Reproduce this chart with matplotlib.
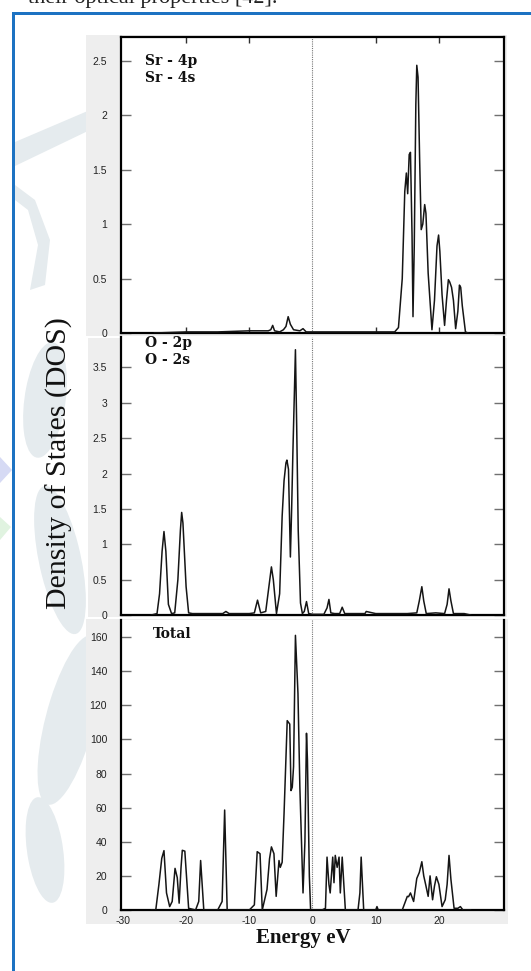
import matplotlib
matplotlib.use('Agg')
import matplotlib.pyplot as plt
from matplotlib.patches import Rectangle, Polygon, Ellipse
from matplotlib.ticker import FuncFormatter

# ---------------- data ----------------
sr_energy = [-25, -20, -15, -10, -7.0, -6.6, -6.3, -6.0, -5.2, -4.6, -4.2, -3.85, -3.5, -3.0, -2.0,
             -1.5, -1.0, 0, 5, 10, 13.0, 13.6, 14.2, 14.6, 14.85, 15.06, 15.3, 15.5, 15.75, 15.9,
             16.1, 16.35, 16.5, 16.7, 16.95, 17.2, 17.45, 17.75, 17.95, 18.3, 18.9, 19.3, 19.7,
             19.95, 20.15, 20.5, 20.9, 21.2, 21.5, 21.7, 22.0, 22.3, 22.65, 23.0, 23.25, 23.45,
             23.7, 24.2, 24.6]
sr_dos = [0.0, 0.01, 0.01, 0.02, 0.02, 0.03, 0.07, 0.02, 0.01, 0.03, 0.06, 0.15, 0.08, 0.03, 0.02,
          0.04, 0.01, 0.01, 0.01, 0.01, 0.01, 0.05, 0.5, 1.3, 1.47, 1.28, 1.64, 1.66, 0.9, 0.15,
          0.8, 2.1, 2.46, 2.35, 1.6, 0.95, 1.0, 1.18, 1.1, 0.55, 0.03, 0.3, 0.8,
          0.9, 0.75, 0.35, 0.07, 0.3, 0.49, 0.47, 0.42, 0.3, 0.04, 0.2, 0.44, 0.42,
          0.25, 0.01, 0.0]

o_energy = [-25.5, -24.6, -24.2, -23.8, -23.5, -23.2, -22.8, -22.3, -21.8, -21.3, -20.9, -20.7,
            -20.5, -20.0, -19.6, -19.0, -16, -14.2, -13.7, -13.2, -10, -9.2, -8.7, -8.2, -7.4,
            -6.9, -6.5, -6.2, -5.7, -5.2, -4.8, -4.5, -4.2, -4.05, -3.8, -3.5, -3.3, -3.1, -2.85,
            -2.7, -2.5, -2.26, -1.9, -1.6, -1.3, -0.95, -0.6, 0, 1.8, 2.3, 2.6, 2.9, 3.5, 4.3,
            4.7, 5.1, 7, 8.3, 8.5, 10, 15, 16.5, 16.9, 17.3, 17.6, 18.0, 19.5, 20.9, 21.3, 21.6,
            21.9, 22.3, 24, 25]
o_dos = [0.0, 0.02, 0.3, 0.9, 1.18, 0.9, 0.15, 0.02, 0.03, 0.5, 1.2, 1.45,
         1.3, 0.4, 0.03, 0.02, 0.02, 0.02, 0.05, 0.02, 0.02, 0.03, 0.21, 0.03, 0.05,
         0.4, 0.68, 0.5, 0.02, 0.3, 1.4, 1.9, 2.15, 2.19, 2.06, 0.82, 1.5, 2.31, 3.2,
         3.75, 2.66, 1.2, 0.17, 0.02, 0.05, 0.19, 0.02, 0.01, 0.01, 0.1, 0.22, 0.03, 0.02, 0.02,
         0.11, 0.02, 0.02, 0.02, 0.05, 0.02, 0.02, 0.03, 0.2, 0.40, 0.2, 0.02, 0.03, 0.02, 0.15, 0.37,
         0.2, 0.02, 0.02, 0.0]

tot_energy = [-25.5, -24.8, -24.3, -23.85, -23.5, -23.1, -22.6, -22.2, -21.75, -21.4, -21.1, -20.8,
              -20.6, -20.2, -19.6, -18.5, -18.0, -17.7, -17.2, -15, -14.3, -13.9, -13.5, -10,
              -9.2, -8.75, -8.3, -7.95, -7.2, -6.8, -6.5, -6.1, -5.75, -5.3, -5.1, -4.8, -4.5,
              -4.0, -3.6, -3.4, -3.2, -3.0, -2.7, -2.3, -2.0, -1.5, -1.2, -0.95, -0.8, -0.5, -0.3,
              0, 1.5, 2.05, 2.3, 2.6, 2.8, 3.2, 3.4, 3.6, 3.9, 4.2, 4.4, 4.7, 5.2, 7.2, 7.5, 7.7,
              8.1, 10.0, 10.2, 10.4, 14.2, 15.0, 15.2, 15.5, 16.0, 16.5, 16.9, 17.3, 17.6, 17.9,
              18.3, 18.6, 19.0, 19.3, 19.6, 20.0, 20.5, 21.0, 21.3, 21.6, 21.9, 22.4, 23.0, 23.4,
              23.8, 25.0]
tot_dos = [0, 0, 15, 30.3, 34.8, 10, 2, 5, 24.4, 19, 4, 25,
           35, 34.5, 1, 0, 5, 29, 0, 0, 5, 58.6, 0, 0,
           3, 34.2, 33, 0, 12, 30, 37, 33, 8, 29, 25, 28, 56.7,
           111, 109, 70, 72, 84, 161, 127, 72, 10, 40, 103.6, 88, 20, 0,
           0, 0, 1, 31, 15, 10, 31, 16, 32, 25, 31, 10, 31, 0, 0, 10, 31,
           0, 0, 2, 0, 0, 8, 7.8, 10, 5, 18.5, 22, 28.3, 20, 15,
           8, 20, 6, 14, 19.5, 15, 2, 6, 15, 32, 18, 1, 1, 2,
           0, 0]

panel_labels = [["Sr - 4p", "Sr - 4s"], ["O - 2p", "O - 2s"], ["Total"]]
y_ticks = [[0, 0.5, 1, 1.5, 2, 2.5],
           [0, 0.5, 1, 1.5, 2, 2.5, 3, 3.5],
           [0, 20, 40, 60, 80, 100, 120, 140, 160]]
y_limits = [2.72, 3.93, 170]
x_ticks = [-30, -20, -10, 0, 10, 20]

# ---------------- figure ----------------
W, H = 531, 971
fig = plt.figure(figsize=(W / 100, H / 100), dpi=100)
fig.patch.set_facecolor('white')


def fx(x):
    return x / W


def fy(y):
    return 1 - y / H


def rect_px(x0, y0, x1, y1, **kw):
    r = Rectangle((fx(x0), fy(y1)), fx(x1) - fx(x0), fy(y0) - fy(y1),
                  transform=fig.transFigure, **kw)
    fig.patches.append(r)


def poly_px(pts, **kw):
    p = Polygon([(fx(a), fy(b)) for a, b in pts], closed=True,
                transform=fig.transFigure, **kw)
    fig.patches.append(p)


def ell_px(cx, cy, w, h, ang, **kw):
    e = Ellipse((fx(cx), fy(cy)), w / W, h / H, angle=ang, transform=fig.transFigure, **kw)
    fig.patches.append(e)


# faint watermark shapes
wm = '#e5ebee'
poly_px([(15, 142), (90, 110), (90, 130), (15, 166)], facecolor=wm, edgecolor='none', zorder=-6)
poly_px([(15, 185), (35, 200), (50, 240), (45, 285), (30, 290), (38, 245), (28, 210), (15, 200)],
        facecolor=wm, edgecolor='none', zorder=-6)
ell_px(45, 400, 40, 120, -20, facecolor=wm, edgecolor='none', zorder=-6)
ell_px(60, 560, 40, 160, 25, facecolor=wm, edgecolor='none', zorder=-6)
ell_px(70, 720, 45, 190, -30, facecolor=wm, edgecolor='none', zorder=-6)
ell_px(45, 850, 35, 110, 20, facecolor=wm, edgecolor='none', zorder=-6)
poly_px([(0, 457), (12, 470), (0, 483)], facecolor='#d6daf4', edgecolor='none', zorder=-6)
poly_px([(0, 517), (11, 527), (0, 540)], facecolor='#e0f3e0', edgecolor='none', zorder=-6)

# gray image backgrounds
gray = '#eeeeee'
rect_px(86, 35, 507, 336, facecolor=gray, edgecolor='none', zorder=-4)
rect_px(88, 338, 507, 617, facecolor=gray, edgecolor='none', zorder=-4)
rect_px(86, 619, 508, 924, facecolor=gray, edgecolor='none', zorder=-4)

# blue frame
blue = '#1c72c2'
rect_px(12, 12, 15, 971, facecolor=blue, edgecolor='none', zorder=-3)
rect_px(12, 12, 531, 15, facecolor=blue, edgecolor='none', zorder=-3)

# header text (cut off at the top, as in the source page)
fig.text(fx(278), fy(3.5), "their optical properties [42].", ha='right', va='baseline',
         fontsize=16, family='Liberation Serif', color='#222222')

L, R = 121, 504
panels = [(37, 333), (337, 615), (620, 910)]
data = [(sr_energy, sr_dos), (o_energy, o_dos), (tot_energy, tot_dos)]
label_pos = [[(145, 65), (145, 82)], [(145, 347), (145, 364)], [(153, 638)]]

fmt = FuncFormatter(lambda v, p: '%g' % v)

for i, ((t, b), (e, d)) in enumerate(zip(panels, data)):
    ax = fig.add_axes([fx(L), fy(b), fx(R) - fx(L), fy(t) - fy(b)])
    ax.set_facecolor('white')
    ax.plot(e, d, color='#151515', lw=1.1, zorder=3)
    ax.axvline(0, color='#777777', lw=0.8, ls=(0, (1, 1)), zorder=2)
    ax.set_xlim(-30.3, 30.3)
    ax.set_ylim(0, y_limits[i])
    ax.set_yticks(y_ticks[i])
    ax.yaxis.set_major_formatter(fmt)
    ax.tick_params(axis='y', direction='in', left=True, right=True, length=7, width=1.0,
                   color='#707070', labelsize=7.5, pad=10, labelcolor='#222222')
    for lab in ax.get_yticklabels():
        lab.set_family('Liberation Sans')
    for s in ['left', 'right', 'bottom']:
        ax.spines[s].set_linewidth(1.6)
        ax.spines[s].set_color('black')
    if i == 0:
        ax.spines['top'].set_linewidth(1.6)
        ax.set_xticks([-20, -10, 10, 20])
        ax.tick_params(axis='x', direction='in', top=True, bottom=True, length=4, width=1.0,
                       color='#303030', labelbottom=False)
    else:
        ax.spines['top'].set_visible(False)
    if i == 1:
        ax.set_xticks([])
    if i == 2:
        ax.set_xticks(x_ticks)
        ax.xaxis.set_major_formatter(fmt)
        ax.tick_params(axis='x', length=0, labelsize=7.5, pad=4, labelcolor='#222222')
        for lab in ax.get_xticklabels():
            lab.set_family('Liberation Sans')
    for txt, (px, py) in zip(panel_labels[i], label_pos[i]):
        fig.text(fx(px), fy(py), txt, ha='left', va='baseline', fontsize=10,
                 family='DejaVu Serif', fontweight='bold', color='#111111')

fig.text(fx(67), fy(463), "Density of States (DOS)", rotation=90, rotation_mode='anchor',
         ha='center', va='baseline', fontsize=21.5, family='Liberation Serif', color='#111111')
fig.text(fx(303), fy(943), "Energy eV", ha='center', va='baseline', fontsize=15,
         family='Liberation Serif', fontweight='bold', color='#111111')

fig.savefig('out.png', dpi=100, facecolor='white')
